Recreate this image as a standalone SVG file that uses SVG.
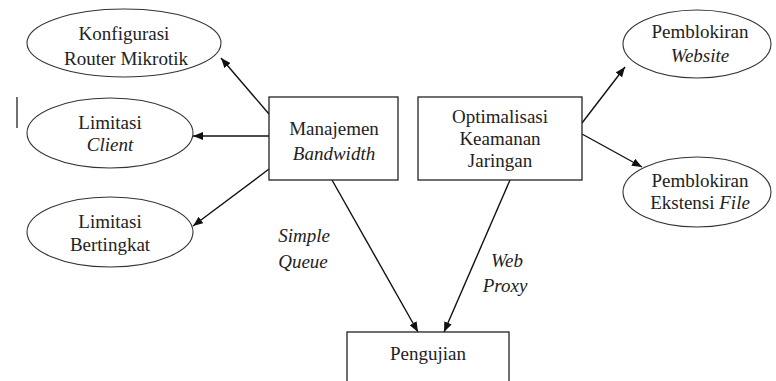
<svg xmlns="http://www.w3.org/2000/svg" width="776" height="381" viewBox="0 0 776 381">
<defs>
<marker id="ah" viewBox="0 0 10 8" refX="10" refY="4" markerWidth="10" markerHeight="8" markerUnits="userSpaceOnUse" orient="auto">
<path d="M0,0 L10,4 L0,8 Z" fill="#111"/>
</marker>
</defs>
<rect width="776" height="381" fill="#fff"/>
<line x1="17" y1="97" x2="17" y2="128" stroke="#222" stroke-width="1.3"/>
<g id="connectors" stroke="#111" stroke-width="1.4" fill="none" marker-end="url(#ah)">
<line x1="269" y1="114" x2="221" y2="58"/>
<line x1="269" y1="136" x2="193" y2="136"/>
<line x1="269" y1="169" x2="193" y2="226"/>
<line x1="332" y1="180" x2="418" y2="332"/>
<line x1="510" y1="180" x2="444" y2="332"/>
<line x1="582" y1="123" x2="625" y2="67"/>
<line x1="582" y1="134" x2="642" y2="167"/>
</g>
<g id="connector-labels" font-size="19" font-style="italic" fill="#222" text-anchor="middle">
<text x="304" y="242" style="font-family:'Liberation Serif','Times New Roman',serif">Simple</text>
<text x="303" y="268" style="font-family:'Liberation Serif','Times New Roman',serif">Queue</text>
<text x="507" y="267" style="font-family:'Liberation Serif','Times New Roman',serif">Web</text>
<text x="505" y="292" style="font-family:'Liberation Serif','Times New Roman',serif">Proxy</text>
</g>
<g font-size="19" text-anchor="middle">
<g fill="#fff" stroke="#333" stroke-width="1.1">
<ellipse id="e1" cx="124" cy="43" rx="97" ry="34"/>
<ellipse id="e2" cx="110" cy="133" rx="83" ry="35"/>
<ellipse id="e3" cx="110" cy="232" rx="83" ry="35"/>
<ellipse id="e4" cx="697" cy="44" rx="74" ry="34"/>
<ellipse id="e5" cx="697" cy="192" rx="74" ry="35"/>
<rect id="r1" x="269" y="97" width="129" height="83" stroke="#222" stroke-width="1.3"/>
<rect id="r2" x="418" y="97" width="164" height="83" stroke="#222" stroke-width="1.3"/>
<rect id="r3" x="347" y="332" width="162" height="60" stroke="#222" stroke-width="1.3"/>
</g>
<g fill="#222">
<g id="konfigurasi">
<text x="124" y="40" style="font-family:'Liberation Serif','Times New Roman',serif">Konfigurasi</text>
<text x="126" y="65" style="font-family:'Liberation Serif','Times New Roman',serif">Router Mikrotik</text>
</g>
<g id="limitasi-client">
<text x="110" y="129" style="font-family:'Liberation Serif','Times New Roman',serif">Limitasi</text>
<text x="110" y="151" font-style="italic" style="font-family:'Liberation Serif','Times New Roman',serif">Client</text>
</g>
<g id="limitasi-bertingkat">
<text x="110" y="228" style="font-family:'Liberation Serif','Times New Roman',serif">Limitasi</text>
<text x="110" y="251" style="font-family:'Liberation Serif','Times New Roman',serif">Bertingkat</text>
</g>
<g id="manajemen">
<text x="334" y="135" style="font-family:'Liberation Serif','Times New Roman',serif">Manajemen</text>
<text x="334" y="160" font-style="italic" style="font-family:'Liberation Serif','Times New Roman',serif">Bandwidth</text>
</g>
<g id="optimalisasi">
<text x="500" y="123" style="font-family:'Liberation Serif','Times New Roman',serif">Optimalisasi</text>
<text x="500" y="145" style="font-family:'Liberation Serif','Times New Roman',serif">Keamanan</text>
<text x="500" y="167" style="font-family:'Liberation Serif','Times New Roman',serif">Jaringan</text>
</g>
<g id="website">
<text x="700" y="38" style="font-family:'Liberation Serif','Times New Roman',serif">Pemblokiran</text>
<text x="700" y="62" font-style="italic" style="font-family:'Liberation Serif','Times New Roman',serif">Website</text>
</g>
<g id="ekstensi">
<text x="700" y="187" style="font-family:'Liberation Serif','Times New Roman',serif">Pemblokiran</text>
<text x="700" y="209" style="font-family:'Liberation Serif','Times New Roman',serif">Ekstensi <tspan font-style="italic">File</tspan></text>
</g>
<g id="pengujian">
<text x="428" y="360" style="font-family:'Liberation Serif','Times New Roman',serif">Pengujian</text>
</g>
</g>
</g>
</svg>
